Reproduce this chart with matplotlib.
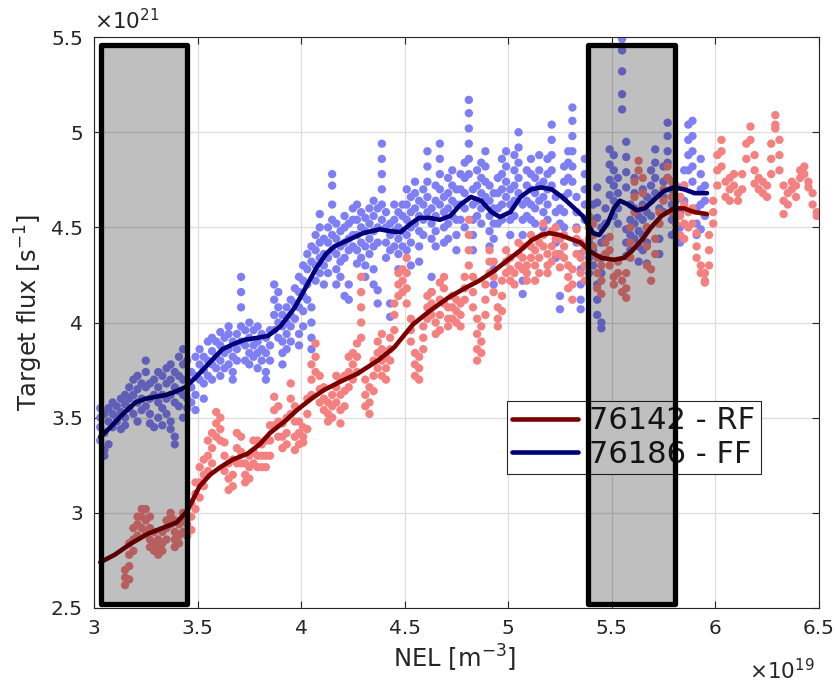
import matplotlib
matplotlib.use("Agg")
import matplotlib.pyplot as plt
from matplotlib.patches import Rectangle
import numpy as np

# ---------------- data (x in 1e19 m^-3, y in 1e21 s^-1) ----------------
# FF shot 76186 scatter, grouped in columns: x value and the y values at that x
blue_x_cols = [3.03, 3.05, 3.07, 3.09, 3.11, 3.13, 3.15, 3.17, 3.19, 3.21, 3.23, 3.25, 3.27, 3.29,
               3.31, 3.33, 3.35, 3.37, 3.39, 3.41, 3.43, 3.45,
               3.47, 3.49, 3.51, 3.53, 3.55, 3.57, 3.59, 3.61, 3.63, 3.65, 3.67, 3.69, 3.71, 3.73,
               3.75, 3.77, 3.79, 3.81, 3.83, 3.85, 3.87, 3.89, 3.91, 3.93, 3.95, 3.97, 3.99,
               4.01, 4.03, 4.05, 4.07, 4.09, 4.11, 4.13, 4.15, 4.17, 4.19, 4.21, 4.23, 4.25, 4.27,
               4.29, 4.31, 4.33, 4.35, 4.37, 4.39, 4.41, 4.43, 4.45, 4.47, 4.49,
               4.51, 4.53, 4.55, 4.57, 4.59, 4.61, 4.63, 4.65, 4.67, 4.69, 4.71, 4.73, 4.75, 4.77,
               4.79, 4.81, 4.83, 4.85, 4.87, 4.89, 4.91, 4.93, 4.95, 4.97, 4.99, 5.01, 5.03, 5.05,
               5.07, 5.09, 5.11, 5.13, 5.15, 5.17, 5.19, 5.21, 5.23, 5.25, 5.27, 5.29, 5.31, 5.33,
               5.35, 5.37, 5.39,
               5.41, 5.43, 5.45, 5.47, 5.49, 5.51, 5.53, 5.55, 5.57, 5.59, 5.61, 5.63, 5.65, 5.67,
               5.69, 5.71, 5.73, 5.75, 5.77, 5.79,
               5.81, 5.83, 5.85, 5.87, 5.89, 5.91, 5.93, 5.95]
blue_y_cols = [
    [3.55, 3.50, 3.45, 3.38], [3.33, 3.30, 3.42, 3.52], [3.36, 3.48, 3.55], [3.45, 3.52, 3.58],
    [3.50, 3.56, 3.48], [3.53, 3.60, 3.44], [3.57, 3.62, 3.50, 3.46], [3.55, 3.66, 3.60],
    [3.52, 3.62, 3.70], [3.65, 3.72, 3.58, 3.48], [3.68, 3.60, 3.54], [3.74, 3.80, 3.66, 3.56],
    [3.60, 3.68, 3.52, 3.47], [3.70, 3.62, 3.45], [3.58, 3.66, 3.74, 3.50], [3.72, 3.62, 3.55, 3.46],
    [3.60, 3.68, 3.76, 3.52], [3.78, 3.70, 3.62, 3.48, 3.44], [3.74, 3.66, 3.58, 3.40, 3.36],
    [3.82, 3.72, 3.64, 3.56], [3.86, 3.78, 3.70, 3.62, 3.50], [3.80, 3.70, 3.60, 3.55],
    [3.58, 3.66, 3.74], [3.62, 3.72, 3.82, 3.54], [3.70, 3.78, 3.86], [3.75, 3.82, 3.68, 3.60],
    [3.80, 3.90, 3.72], [3.85, 3.78, 3.70, 3.92], [3.82, 3.90, 3.76], [3.88, 3.95, 3.80, 3.72],
    [3.92, 3.84, 3.76], [3.86, 3.94, 3.98, 3.78], [3.90, 3.82, 3.74, 3.70], [3.94, 3.86, 3.80],
    [4.24, 4.16, 4.08, 3.98, 3.90], [3.88, 3.80, 3.96], [3.92, 3.84, 3.78, 4.00], [3.96, 3.88, 3.82],
    [3.90, 3.84, 3.76, 3.98], [3.94, 3.86, 3.80], [3.92, 3.84, 3.74, 3.70], [3.88, 3.96, 3.80],
    [4.20, 4.12, 4.04, 3.96], [4.16, 4.08, 4.00, 3.92], [4.04, 3.98, 3.90, 3.84, 3.78],
    [4.08, 4.00, 3.94, 3.86], [4.12, 4.04, 3.98, 3.90], [4.18, 4.10, 4.02], [4.24, 4.16, 4.08, 3.94, 3.88],
    [4.30, 4.22, 4.14, 4.06, 3.98], [4.36, 4.28, 4.20, 4.12], [4.40, 4.32, 4.08, 4.00, 3.92, 3.86],
    [4.46, 4.38, 4.30, 4.22], [4.57, 4.50, 4.42, 4.34, 4.26], [4.44, 4.36, 4.30, 4.20],
    [4.50, 4.42, 4.34, 4.26], [4.78, 4.72, 4.62, 4.54, 4.46, 4.38], [4.52, 4.44, 4.36, 4.28, 4.20],
    [4.48, 4.40, 4.32, 4.24], [4.56, 4.50, 4.42, 4.34, 4.14], [4.52, 4.44, 4.38, 4.20, 4.12],
    [4.60, 4.54, 4.46, 4.40], [4.62, 4.54, 4.46, 4.38, 4.31], [4.58, 4.50, 4.42, 4.34],
    [4.55, 4.48, 4.40, 4.30, 4.24], [4.60, 4.52, 4.44, 4.36], [4.64, 4.56, 4.48, 4.40, 4.28, 4.20],
    [4.60, 4.50, 4.42, 4.17, 4.10], [4.94, 4.86, 4.78, 4.70, 4.62, 4.54], [4.58, 4.50, 4.42, 4.34],
    [4.52, 4.46, 4.38, 4.10, 4.03], [4.62, 4.54, 4.48, 4.40], [4.58, 4.50, 4.44, 4.36, 4.28],
    [4.62, 4.56, 4.48, 4.40],
    [4.70, 4.62, 4.54, 4.46, 4.38], [4.66, 4.58, 4.50, 4.42, 4.30], [4.74, 4.68, 4.60, 4.52],
    [4.64, 4.56, 4.48, 4.40, 4.32], [4.70, 4.62, 4.54, 4.46], [4.90, 4.82, 4.74, 4.66, 4.58],
    [4.60, 4.52, 4.44, 4.24, 4.16], [4.72, 4.64, 4.56, 4.48, 4.40], [4.94, 4.86, 4.78, 4.70, 4.62],
    [4.66, 4.58, 4.50, 4.42], [4.76, 4.68, 4.60, 4.52, 4.44], [4.80, 4.72, 4.64, 4.56],
    [4.70, 4.62, 4.54, 4.46, 4.38], [4.78, 4.70, 4.62, 4.54], [4.84, 4.76, 4.68, 4.60, 4.50],
    [5.17, 5.10, 5.02, 4.94, 4.86, 4.78], [4.70, 4.62, 4.54, 4.46, 4.38], [4.80, 4.72, 4.64, 4.56],
    [4.84, 4.76, 4.68, 4.60, 4.52], [4.90, 4.82, 4.74, 4.66], [4.72, 4.64, 4.56, 4.48, 4.40],
    [4.68, 4.60, 4.52, 4.44, 4.28, 4.20], [4.76, 4.68, 4.60, 4.52], [4.86, 4.78, 4.70, 4.62, 4.54],
    [4.90, 4.82, 4.74, 4.66], [4.70, 4.62, 4.54, 4.46], [4.88, 4.80, 4.72, 4.64, 4.56],
    [5.00, 4.92, 4.84, 4.76, 4.68], [4.62, 4.54, 4.46, 4.22, 4.15], [4.80, 4.72, 4.64, 4.56],
    [4.86, 4.78, 4.70, 4.62, 4.54], [4.76, 4.68, 4.60, 4.52], [4.88, 4.80, 4.72, 4.64],
    [4.74, 4.66, 4.58, 4.50], [4.86, 4.78, 4.70, 4.62, 4.54], [5.04, 4.96, 4.88, 4.80, 4.72],
    [4.66, 4.58, 4.50, 4.42, 4.34], [4.60, 4.52, 4.44, 4.36, 4.14, 4.07], [4.82, 4.74, 4.66, 4.58, 4.50],
    [4.90, 4.84, 4.76, 4.68], [5.13, 5.06, 4.98, 4.90, 4.82, 4.74], [4.66, 4.58, 4.50, 4.42],
    [4.36, 4.28, 4.20, 4.12, 4.07], [4.86, 4.78, 4.70, 4.62, 4.54], [4.50, 4.42, 4.34, 4.26],
    [4.62, 4.54, 4.46, 4.38, 4.30], [4.71, 4.63, 4.55, 4.20, 4.12, 4.04], [4.50, 4.42, 4.34, 4.26, 4.00, 3.97],
    [4.60, 4.52, 4.44, 4.36], [4.91, 4.83, 4.75, 4.67], [4.88, 4.80, 4.72, 4.64, 4.56],
    [4.76, 4.68, 4.60, 4.52], [5.49, 5.43, 5.32, 5.20, 5.12], [4.95, 4.87, 4.79, 4.71, 4.49, 4.42, 4.35],
    [4.62, 4.54, 4.46, 4.38], [4.76, 4.68, 4.60, 4.52, 4.44], [4.56, 4.48, 4.40, 4.32],
    [4.70, 4.62, 4.54, 4.46, 4.38], [4.66, 4.58, 4.50, 4.42, 4.31], [4.80, 4.72, 4.64, 4.56],
    [4.91, 4.84, 4.76, 4.68], [4.60, 4.52, 4.44, 4.36], [4.82, 4.74, 4.66, 4.58],
    [5.05, 4.98, 4.90, 4.84, 4.76], [4.70, 4.62, 4.54, 4.46],
    [4.72, 4.64, 4.56, 4.48], [4.66, 4.58, 4.50, 4.42], [4.80, 4.72, 4.64], [5.04, 4.96, 4.88, 4.80],
    [5.06, 4.98, 4.90, 4.82, 4.74], [4.60, 4.52, 4.46], [4.86, 4.78, 4.70, 4.62, 4.49], [4.72, 4.64, 4.56],
]

# RF shot 76142 scatter
red_x_cols = [3.15, 3.17, 3.19, 3.21, 3.23, 3.25, 3.27, 3.29, 3.31, 3.33, 3.35, 3.37, 3.39, 3.41, 3.43, 3.45,
              3.47, 3.49, 3.51, 3.53, 3.55, 3.57, 3.59, 3.61, 3.63, 3.65, 3.67, 3.69, 3.71, 3.73, 3.75,
              3.77, 3.79, 3.81, 3.83, 3.85, 3.87, 3.89, 3.91, 3.93, 3.95, 3.97, 3.99,
              4.01, 4.03, 4.05, 4.07, 4.09, 4.11, 4.13, 4.15, 4.17, 4.19, 4.21, 4.23, 4.25, 4.27,
              4.29, 4.31, 4.33, 4.35, 4.37, 4.39, 4.41,
              4.43, 4.45, 4.47, 4.49, 4.51, 4.53, 4.55, 4.57, 4.59, 4.61, 4.63, 4.65, 4.67, 4.69,
              4.71, 4.73, 4.75, 4.77, 4.79, 4.81, 4.83, 4.85, 4.87, 4.89, 4.91, 4.93, 4.95, 4.97,
              4.99, 5.01, 5.03, 5.05, 5.07, 5.09, 5.11, 5.13, 5.15, 5.17, 5.19, 5.21, 5.23, 5.25,
              5.27, 5.29, 5.31, 5.33, 5.35, 5.37, 5.39,
              5.41, 5.43, 5.45, 5.47, 5.49, 5.51, 5.53, 5.55, 5.57, 5.59, 5.61, 5.63, 5.65, 5.67,
              5.69, 5.71, 5.73, 5.75, 5.77, 5.79,
              5.81, 5.83, 5.85, 5.87, 5.89, 5.91, 5.93, 5.95, 5.97, 5.99, 6.01, 6.03, 6.05, 6.07,
              6.09, 6.11, 6.13, 6.15, 6.17, 6.19, 6.21, 6.23, 6.25, 6.27, 6.29, 6.31, 6.33, 6.35,
              6.37, 6.39, 6.41, 6.43, 6.45, 6.47, 6.49]
red_y_cols = [
    [2.62, 2.66, 2.70], [2.65, 2.72, 2.78, 2.84], [2.80, 2.86, 2.92], [2.88, 2.94, 2.98],
    [2.92, 2.98, 3.02], [3.02, 2.96, 2.90], [2.98, 2.92, 2.86, 2.82], [2.90, 2.84, 2.80],
    [2.86, 2.82, 2.78], [2.80, 2.84, 2.90], [2.86, 2.92, 2.96], [2.94, 2.98, 3.00],
    [2.96, 2.90, 2.86, 2.82], [2.84, 2.88, 2.94], [2.90, 2.96, 3.00], [2.94, 2.88],
    [3.05, 2.98, 2.91], [3.02, 3.10, 3.16], [3.08, 3.16, 3.24], [3.14, 3.20, 3.28],
    [3.22, 3.30, 3.38], [3.26, 3.34, 3.42], [3.40, 3.47, 3.53], [3.50, 3.44, 3.38],
    [3.37, 3.30, 3.22], [3.26, 3.18, 3.12], [3.14, 3.20, 3.28], [3.26, 3.34, 3.42],
    [3.40, 3.32, 3.26], [3.26, 3.20, 3.16], [3.18, 3.24, 3.30], [3.26, 3.32, 3.38],
    [3.38, 3.30, 3.24], [3.24, 3.30, 3.36], [3.30, 3.38, 3.24], [3.30, 3.38, 3.46],
    [3.46, 3.54, 3.61], [3.56, 3.48, 3.40], [3.40, 3.34, 3.47], [3.36, 3.42, 3.50],
    [3.52, 3.60, 3.68], [3.56, 3.48, 3.40, 3.33], [3.36, 3.42, 3.48],
    [3.45, 3.40, 3.37], [3.44, 3.52, 3.60], [3.62, 3.70, 3.78], [3.89, 3.82, 3.74],
    [3.72, 3.65, 3.58], [3.54, 3.60, 3.66], [3.58, 3.52, 3.48], [3.50, 3.56, 3.62],
    [3.58, 3.66, 3.72], [3.70, 3.62, 3.54, 3.47], [3.56, 3.64, 3.72], [3.74, 3.82, 3.66],
    [3.84, 3.78, 3.70], [3.89, 3.82, 3.74], [4.24, 4.16, 4.08, 4.00, 3.92], [3.70, 3.62, 3.56],
    [3.52, 3.58, 3.66], [3.64, 3.72, 3.80], [3.76, 3.84, 3.90], [3.94, 3.86, 3.80, 3.72],
    [3.70, 3.76, 3.82],
    [3.80, 3.86, 3.92], [3.96, 4.04, 4.10], [4.14, 4.20, 4.26], [4.28, 4.22, 4.16],
    [4.34, 4.26, 4.18, 4.10], [4.02, 3.96, 3.90], [3.84, 3.78, 3.72], [3.70, 3.76, 3.82],
    [3.86, 3.92, 3.98], [4.02, 4.08, 4.14], [4.16, 4.10, 4.04], [4.00, 3.94],
    [3.96, 4.04, 4.12, 4.21], [4.24, 4.18, 4.10], [4.08, 4.02, 3.98], [4.02, 4.08, 4.14],
    [4.12, 4.06, 4.00], [3.98, 4.04, 4.10], [4.12, 4.18, 4.24], [4.54, 4.46, 4.38, 4.30],
    [4.24, 4.16, 4.08], [4.02, 3.94, 3.86, 3.80], [3.84, 3.90, 3.98], [4.04, 4.12, 4.20],
    [4.26, 4.32, 4.38], [4.32, 4.24, 4.16], [4.08, 4.02, 3.98], [4.06, 4.14, 4.22],
    [4.26, 4.32, 4.38], [4.34, 4.28, 4.22], [4.20, 4.26], [4.30, 4.36, 4.42],
    [4.40, 4.34, 4.28], [4.26, 4.22, 4.30], [4.34, 4.40, 4.46], [4.38, 4.30, 4.22],
    [4.26, 4.34, 4.42], [4.46, 4.52, 4.40], [4.36, 4.30, 4.26], [4.32, 4.40, 4.48],
    [4.50, 4.44, 4.36], [4.29, 4.36, 4.44], [4.46, 4.40, 4.34], [4.30, 4.24, 4.18],
    [4.12, 4.20, 4.28], [4.36, 4.44, 4.49], [4.42, 4.34, 4.26], [4.22, 4.30, 4.38],
    [4.44, 4.50, 4.56],
    [4.52, 4.46, 4.40], [4.34, 4.26, 4.18], [4.15, 4.22, 4.30], [4.36, 4.42], [4.45, 4.38, 4.30],
    [4.24, 4.20], [4.26, 4.32], [4.22, 4.16], [4.13, 4.18, 4.26], [4.34, 4.42, 4.50],
    [4.58, 4.66, 4.74], [4.80, 4.85], [4.76, 4.68, 4.60], [4.50, 4.40, 4.30], [4.22, 4.28],
    [4.36, 4.44], [4.52, 4.58], [4.64, 4.70], [4.76, 4.82], [4.74, 4.66, 4.58],
    [4.60, 4.52], [4.46, 4.56, 4.66], [4.72, 4.62, 4.52, 4.44], [4.50, 4.58], [4.60, 4.52],
    [4.47, 4.40, 4.34], [4.30, 4.26], [4.22, 4.21, 4.26], [4.30, 4.38, 4.46], [4.52, 4.58, 4.64],
    [4.72, 4.80, 4.88], [4.96, 4.90, 4.82], [4.74, 4.66], [4.64, 4.70, 4.76], [4.78, 4.72],
    [4.68, 4.64], [4.70, 4.78], [4.86, 4.94], [5.03, 4.96], [4.88, 4.80, 4.73], [4.70, 4.76],
    [4.74, 4.68], [4.66, 4.72], [4.78, 4.86, 4.94], [5.02, 5.09, 5.04], [4.96, 4.88, 4.80],
    [4.72, 4.64, 4.57], [4.62, 4.68], [4.74, 4.70], [4.66, 4.72], [4.76, 4.80], [4.82, 4.78],
    [4.74, 4.71], [4.68, 4.62], [4.58, 4.56],
]

# smoothed trends
rf_line_x = [3.03, 3.10, 3.18, 3.26, 3.33, 3.40, 3.45, 3.51, 3.56, 3.61, 3.67, 3.74, 3.80, 3.85,
             3.92, 3.98, 4.05, 4.11, 4.19, 4.27, 4.37, 4.45, 4.54, 4.62, 4.71, 4.79, 4.86, 4.93,
             5.00, 5.06, 5.11, 5.16, 5.20, 5.25, 5.30, 5.35, 5.40, 5.45, 5.51, 5.56, 5.60, 5.65,
             5.69, 5.74, 5.80, 5.85, 5.90, 5.96]
rf_line_y = [2.74, 2.78, 2.84, 2.89, 2.92, 2.95, 3.01, 3.14, 3.20, 3.24, 3.28, 3.31, 3.36, 3.42,
             3.48, 3.54, 3.60, 3.645, 3.69, 3.73, 3.80, 3.87, 3.99, 4.06, 4.13, 4.18, 4.22, 4.27,
             4.33, 4.38, 4.43, 4.46, 4.47, 4.46, 4.44, 4.42, 4.37, 4.34, 4.33, 4.34, 4.38, 4.44,
             4.50, 4.56, 4.60, 4.60, 4.58, 4.57]
ff_line_x = [3.03, 3.08, 3.14, 3.20, 3.25, 3.30, 3.35, 3.40, 3.44, 3.49, 3.55, 3.62, 3.68, 3.73,
             3.79, 3.84, 3.90, 3.97, 4.02, 4.07, 4.12, 4.16, 4.22, 4.30, 4.38, 4.43, 4.48, 4.53,
             4.57, 4.62, 4.67, 4.72, 4.77, 4.82, 4.87, 4.92, 4.96, 5.01, 5.06, 5.11, 5.16, 5.21,
             5.26, 5.31, 5.36, 5.41, 5.44, 5.48, 5.51, 5.54, 5.58, 5.62, 5.66, 5.70, 5.75, 5.80,
             5.85, 5.90, 5.96]
ff_line_y = [3.40, 3.45, 3.52, 3.58, 3.60, 3.61, 3.62, 3.64, 3.66, 3.71, 3.78, 3.86, 3.89, 3.91,
             3.92, 3.93, 3.98, 4.08, 4.18, 4.28, 4.36, 4.40, 4.43, 4.47, 4.49, 4.48, 4.475, 4.52,
             4.55, 4.55, 4.54, 4.56, 4.62, 4.66, 4.64, 4.58, 4.555, 4.58, 4.66, 4.70, 4.71, 4.70,
             4.66, 4.61, 4.56, 4.47, 4.46, 4.52, 4.60, 4.64, 4.62, 4.59, 4.60, 4.64, 4.69, 4.71,
             4.70, 4.68, 4.68]

series_labels = ["76142 - RF", "76186 - FF"]
shaded_ranges = [(3.034, 3.449), (5.386, 5.807)]
shade_y = (2.52, 5.458)

# ---------------- plotting ----------------
plt.rcParams['font.family'] = ['DejaVu Sans']
fig = plt.figure(figsize=(8.35, 6.87), dpi=100)
ax = fig.add_axes([0.1126, 0.115, 0.868, 0.831])

bx = np.concatenate([[x] * len(ys) for x, ys in zip(blue_x_cols, blue_y_cols)])
by = np.concatenate([ys for ys in blue_y_cols])
rx = np.concatenate([[x] * len(ys) for x, ys in zip(red_x_cols, red_y_cols)])
ry = np.concatenate([ys for ys in red_y_cols])

ax.scatter(bx, by, s=36, color='#7f7ff5', edgecolors='none', zorder=2)
ax.scatter(rx, ry, s=36, color='#f58080', edgecolors='none', zorder=2)

ax.plot(rf_line_x, rf_line_y, color='#7a0000', lw=3.3, zorder=3, label=series_labels[0],
        solid_capstyle='round')
ax.plot(ff_line_x, ff_line_y, color='#00007a', lw=3.3, zorder=3, label=series_labels[1],
        solid_capstyle='round')

for x0, x1 in shaded_ranges:
    ax.add_patch(Rectangle((x0, shade_y[0]), x1 - x0, shade_y[1] - shade_y[0],
                           facecolor=(0, 0, 0, 0.25), edgecolor='black', lw=3.8,
                           joinstyle='round', zorder=6))

ax.set_xlim(3, 6.5)
ax.set_ylim(2.5, 5.5)
ax.set_xticks([3, 3.5, 4, 4.5, 5, 5.5, 6, 6.5])
ax.set_xticklabels(['3', '3.5', '4', '4.5', '5', '5.5', '6', '6.5'])
ax.set_yticks([2.5, 3, 3.5, 4, 4.5, 5, 5.5])
ax.set_yticklabels(['2.5', '3', '3.5', '4', '4.5', '5', '5.5'])
ax.grid(True, color='#dedede', lw=0.9, zorder=0)
ax.set_axisbelow(True)
ax.tick_params(direction='in', top=True, right=True, length=5, width=0.8,
               colors='#262626', labelsize=14.5)
ax.tick_params(axis='x', pad=8)
ax.tick_params(axis='y', pad=8)
for sp in ax.spines.values():
    sp.set_color('#262626')
    sp.set_linewidth(0.8)

ax.set_xlabel('NEL [m$^{-3}$]', fontsize=17.5, color='#262626')
ax.set_ylabel('Target flux [s$^{-1}$]', fontsize=17.5, color='#262626')
ax.xaxis.set_label_coords(0.497, -0.062)
ax.yaxis.set_label_coords(-0.068, 0.518)
ax.text(0.0, 1.006, r'$\times$10$^{21}$', transform=ax.transAxes, ha='left', va='bottom',
        fontsize=15.5, color='#262626')
ax.text(0.9945, -0.088, r'$\times$10$^{19}$', transform=ax.transAxes, ha='right', va='top',
        fontsize=15.5, color='#262626')

leg = ax.legend(loc='center left', bbox_to_anchor=(0.5697, 0.2986), fontsize=22,
                frameon=True, fancybox=False, framealpha=1, edgecolor='#262626',
                handlelength=2.15, handletextpad=0.36, borderpad=0.18, labelspacing=0.14,
                borderaxespad=0)
leg.get_frame().set_linewidth(0.8)
leg.set_zorder(5)
for t in leg.get_texts():
    t.set_color('#1a1a1a')

fig.savefig('out.png', dpi=100)
